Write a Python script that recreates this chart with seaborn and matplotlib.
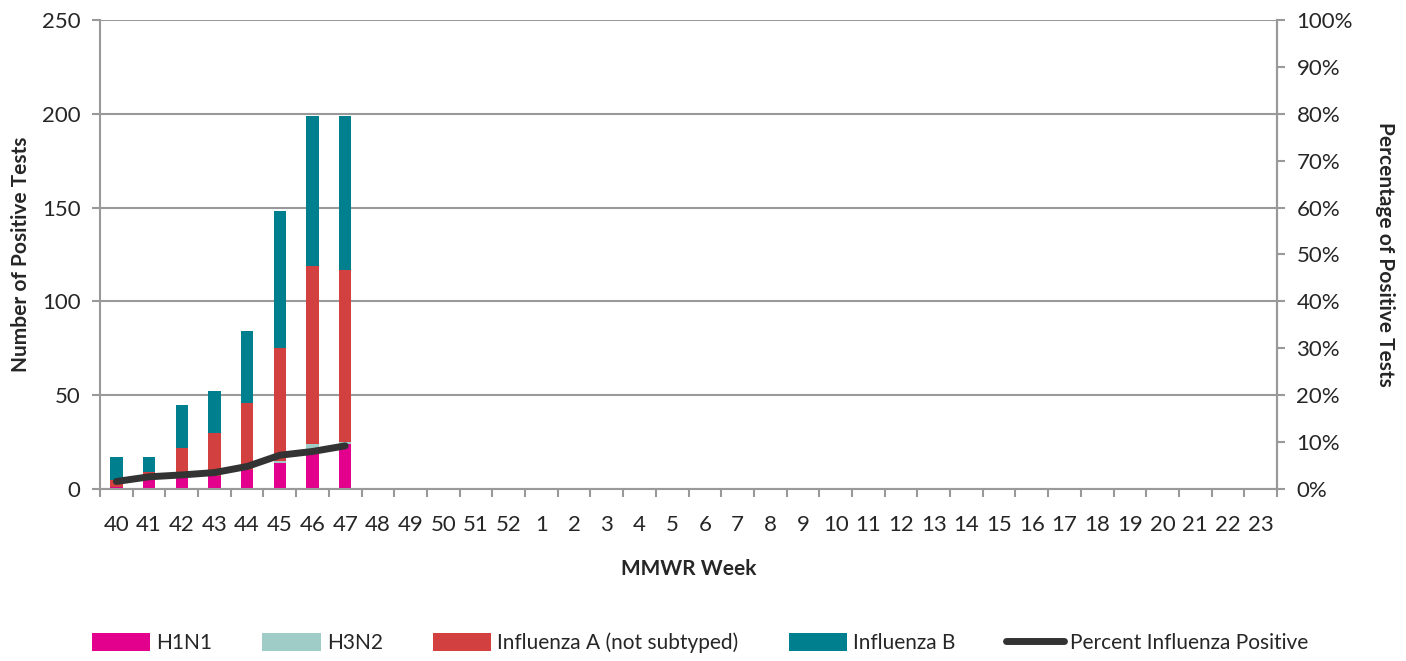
import numpy as np
import pandas as pd
import matplotlib
matplotlib.use("Agg")
import matplotlib.pyplot as plt
import seaborn as sns
from matplotlib.ticker import FuncFormatter, FixedLocator
from matplotlib.patches import Patch
from matplotlib.lines import Line2D

weeks = [str(w) for w in list(range(40, 53)) + list(range(1, 24))]
h1n1 = [1, 8, 7, 7, 10, 14, 19, 24]
h3n2 = [0, 0, 0, 0, 0, 1, 5, 1]
flu_a = [4, 1, 15, 23, 36, 60, 95, 92]
flu_b = [12, 8, 23, 22, 38, 73, 80, 82]
pct_pos = [1.6, 2.6, 3.0, 3.5, 4.8, 7.2, 8.0, 9.2]

labels = ["H1N1", "H3N2", "Influenza A (not subtyped)", "Influenza B"]
colors = ["#E3008C", "#9FCCC7", "#D24040", "#00808F"]
line_color = "#333333"
grid_c = "#999999"

sns.set_theme(style="white")
plt.rcParams['font.family'] = ['Lato', 'DejaVu Sans']

n = len(h1n1)
c1 = np.array(h1n1)
c2 = c1 + np.array(h3n2)
c3 = c2 + np.array(flu_a)
c4 = c3 + np.array(flu_b)

fig = plt.figure(figsize=(14.06, 6.61), dpi=100)
ax = fig.add_axes([100/1406, 1 - 489/661, (1277-100)/1406, (489-20)/661])

cum = [c4, c3, c2, c1]
cols = [colors[3], colors[2], colors[1], colors[0]]
for vals, col in zip(cum, cols):
    df = pd.DataFrame({"week": weeks[:n], "val": vals})
    sns.barplot(data=df, x="week", y="val", order=weeks, color=col,
                width=0.38, ax=ax, saturation=1, edgecolor="none", linewidth=0)

ax.set_xlim(-0.5, len(weeks) - 0.5)
ax.set_ylim(0, 250)
ax.set_yticks(range(0, 251, 50))
ax.yaxis.grid(True, color=grid_c, linewidth=1.5)
ax.set_axisbelow(True)
ax.spines["top"].set_visible(False)
for s in ["left", "right", "bottom"]:
    ax.spines[s].set_color(grid_c)
    ax.spines[s].set_linewidth(1.5)
ax.set_xlabel("MMWR Week", fontsize=15, fontweight="bold", labelpad=17)
ax.set_ylabel("Number of Positive Tests", fontsize=15, fontweight="bold", labelpad=8)
ax.tick_params(axis="x", which="major", length=0, labelsize=16, pad=19)
ax.tick_params(axis="y", which="major", length=6, width=1.5, color=grid_c,
               labelsize=16, pad=8, left=True)
ax.xaxis.set_minor_locator(FixedLocator(np.arange(-0.5, len(weeks), 1.0)))
ax.tick_params(axis="x", which="minor", length=6, width=1.5, color=grid_c, bottom=True)

ax2 = ax.twinx()
sns.lineplot(x=np.arange(n), y=pct_pos, color=line_color, linewidth=5,
             ax=ax2, solid_capstyle="round")
ax2.set_ylim(0, 100)
ax2.set_yticks(range(0, 101, 10))
ax2.yaxis.set_major_formatter(FuncFormatter(lambda v, p: f"{int(v)}%"))
ax2.tick_params(axis="y", length=6, width=1.5, color=grid_c, labelsize=16, pad=8, right=True)
ax2.set_ylabel("Percentage of Positive Tests", fontsize=15, fontweight="bold",
               rotation=270, labelpad=30)
for s in ["top", "left", "bottom"]:
    ax2.spines[s].set_visible(False)
ax2.spines["right"].set_color(grid_c)
ax2.spines["right"].set_linewidth(1.5)
ax2.set_xlim(-0.5, len(weeks) - 0.5)

handles = [Patch(facecolor=c, edgecolor="none") for c in colors]
handles.append(Line2D([0], [0], color=line_color, linewidth=5, solid_capstyle="round"))
fig.legend(handles, labels + ["Percent Influenza Positive"], loc="center",
           bbox_to_anchor=(700/1406, 1 - 643/661), ncol=5, frameon=False,
           fontsize=15, handlelength=2.8, handleheight=0.9, columnspacing=2.4,
           handletextpad=0.3)

fig.savefig("out.png", dpi=100)
